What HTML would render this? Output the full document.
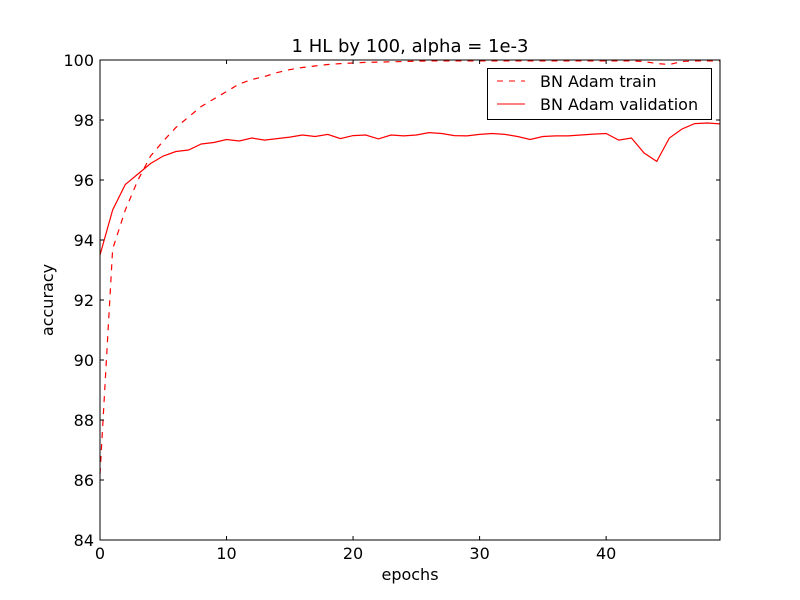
<!DOCTYPE html>
<html><head><meta charset="utf-8"><style>body{margin:0;background:#fff}svg{display:block;font-family:"DejaVu Sans","Liberation Sans",sans-serif}</style></head>
<body>
<svg id="chart" width="800" height="600" viewBox="0 0 800 600">
<rect x="0" y="0" width="800" height="600" fill="#fff"/>
<text x="410" y="52" font-size="18" text-anchor="middle">1 HL by 100, alpha = 1e-3</text>
<g id="plot"></g>
<rect x="100" y="60" width="620" height="480" fill="none" stroke="#000" stroke-width="1"/>
<text x="410" y="580" font-size="16" text-anchor="middle">epochs</text>
<text x="53" y="300" font-size="16" text-anchor="middle" transform="rotate(-90 53 300)">accuracy</text>
<g>
<rect x="487.5" y="68.5" width="224" height="51" fill="#fff" stroke="#000"/>
<line x1="497" y1="81" x2="525" y2="81" stroke="red" stroke-dasharray="6,6"/>
<text x="540" y="87" font-size="16">BN Adam train</text>
<line x1="497" y1="104" x2="525" y2="104" stroke="red"/>
<text x="540" y="110" font-size="16">BN Adam validation</text>
</g>
</svg>
<script>
const xTicks=[0,10,20,30,40];
const yTicks=[84,86,88,90,92,94,96,98,100];
const trainAcc=[86.2,93.7,95.0,96.0,96.8,97.3,97.75,98.1,98.45,98.7,98.95,99.2,99.35,99.45,99.58,99.68,99.75,99.8,99.85,99.88,99.9,99.92,99.93,99.94,99.95,99.96,99.97,99.97,99.97,99.97,99.97,99.97,99.97,99.97,99.97,99.97,99.97,99.97,99.97,99.97,99.97,99.97,99.97,99.95,99.88,99.85,99.95,99.97,99.97,99.97];
const valAcc=[93.5,95.0,95.85,96.2,96.55,96.8,96.95,97.0,97.2,97.25,97.35,97.3,97.4,97.33,97.38,97.43,97.5,97.45,97.52,97.38,97.48,97.5,97.37,97.5,97.47,97.5,97.58,97.55,97.48,97.47,97.52,97.55,97.52,97.45,97.35,97.45,97.47,97.47,97.5,97.53,97.55,97.33,97.4,96.9,96.62,97.4,97.7,97.88,97.9,97.87];
const NS='http://www.w3.org/2000/svg';
const X=e=>100+e*620/49, Y=v=>540-(v-84)*480/16;
const g=document.getElementById('plot');
function mk(t,a){const el=document.createElementNS(NS,t);for(const k in a)el.setAttribute(k,a[k]);g.appendChild(el);return el;}
function line(data,dash,name){
  const el=mk('polyline',{points:data.map((v,i)=>X(i)+','+Y(v)).join(' '),fill:'none',stroke:'red','stroke-width':1.2});
  if(dash)el.setAttribute('stroke-dasharray',dash);
  
  
}
line(trainAcc,'6,6','train-line');
line(valAcc,null,'validation-line');
xTicks.forEach(t=>{
  const x=X(t);
  const a=mk('line',{x1:x,y1:540,x2:x,y2:536,stroke:'#000'});
  
  
  const b=mk('line',{x1:x,y1:60,x2:x,y2:64,stroke:'#000'});
  
  
  const tx=mk('text',{x:x,y:559,'font-size':16,'text-anchor':'middle'});tx.textContent=t;
  
  
});
yTicks.forEach(t=>{
  const y=Y(t);
  const a=mk('line',{x1:100,y1:y,x2:104,y2:y,stroke:'#000'});
  
  
  const b=mk('line',{x1:720,y1:y,x2:716,y2:y,stroke:'#000'});
  
  
  const tx=mk('text',{x:94,y:y+6,'font-size':16,'text-anchor':'end'});tx.textContent=t;
  
  
});
</script>
</body></html>
